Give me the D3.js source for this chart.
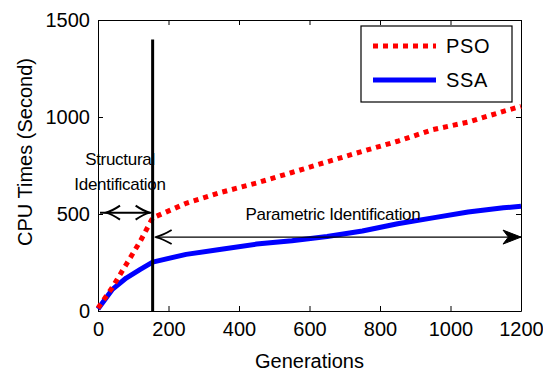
<!DOCTYPE html>
<html>
<head>
<meta charset="utf-8">
<script src="https://cdn.jsdelivr.net/npm/d3@7"></script>
<style>
  html, body { margin: 0; padding: 0; background: #fff; }
  svg { display: block; font-family: "Liberation Sans", Arial, sans-serif; }
</style>
</head>
<body>
<svg id="chart" width="543" height="374"></svg>
<script>
// Sampled generations and CPU time (seconds) for each algorithm
const generations = [0, 40, 80, 120, 155, 250, 350, 450, 550, 650, 750, 850, 950, 1050, 1150, 1200];
const psoTimes    = [15, 120, 240, 360, 480, 555, 612, 660, 714, 769, 823, 875, 935, 974, 1029, 1055];
const ssaTimes    = [10, 110, 170, 215, 252, 292, 318, 345, 362, 384, 412, 450, 480, 510, 532, 540];
const xTicks = [0, 200, 400, 600, 800, 1000, 1200];
const yTicks = [0, 500, 1000, 1500];
const seriesNames = ["PSO", "SSA"];

// Phase boundary and annotation levels
const phaseSplit = 155;
const splitTop = 1400;
const structArrowY = 507;
const paramArrowY = 381;

const svg = d3.select("#chart");
const margin = { left: 98, top: 20, right: 22, bottom: 63 };
const W = 543, H = 374;
const x = d3.scaleLinear().domain([0, 1200]).range([margin.left, W - margin.right]);
const y = d3.scaleLinear().domain([0, 1500]).range([H - margin.bottom, margin.top]);
const plain = d3.format("d");

// Frame and inward ticks on all four sides
const tickLen = 5;
const axB = svg.append("g").attr("transform", `translate(0,${y(0)})`)
  .call(d3.axisBottom(x).tickValues(xTicks).tickFormat(plain).tickSizeInner(-tickLen).tickSizeOuter(0).tickPadding(11));
const axT = svg.append("g").attr("transform", `translate(0,${y(1500)})`)
  .call(d3.axisTop(x).tickValues(xTicks).tickSizeInner(-tickLen).tickSizeOuter(0).tickFormat(""));
const axL = svg.append("g").attr("transform", `translate(${x(0)},0)`)
  .call(d3.axisLeft(y).tickValues(yTicks).tickFormat(plain).tickSizeInner(-tickLen).tickSizeOuter(0).tickPadding(8));
const axR = svg.append("g").attr("transform", `translate(${x(1200)},0)`)
  .call(d3.axisRight(y).tickValues(yTicks).tickSizeInner(-tickLen).tickSizeOuter(0).tickFormat(""));
[axB, axT, axL, axR].forEach(g => {
  g.selectAll("path.domain").attr("stroke", "#000").attr("stroke-width", 1);
  g.selectAll(".tick line").attr("stroke", "#000");
  g.selectAll("text").attr("font-size", 20).attr("fill", "#000")
    .attr("font-family", "'Liberation Sans', Arial, sans-serif");
});

// Axis titles
svg.append("text").attr("x", (x(0) + x(1200)) / 2).attr("y", 368)
  .attr("text-anchor", "middle").attr("font-size", 20).text("Generations");
svg.append("text").attr("transform", `translate(32,152) rotate(-90)`)
  .attr("text-anchor", "middle").attr("font-size", 20)
  .text("CPU Times (Second)");

// Series lines
const line = d3.line().x((d, i) => x(generations[i])).y(d => y(d));
svg.append("path").datum(ssaTimes).attr("d", line)
  .attr("fill", "none").attr("stroke", "#0000ff").attr("stroke-width", 5)
  .attr("stroke-linejoin", "round");
svg.append("path").datum(psoTimes).attr("d", line)
  .attr("fill", "none").attr("stroke", "#ff0000").attr("stroke-width", 5)
  .attr("stroke-dasharray", "5,5");

// Phase separator
svg.append("line")
  .attr("x1", x(phaseSplit)).attr("x2", x(phaseSplit))
  .attr("y1", y(splitTop)).attr("y2", y(0))
  .attr("stroke", "#000").attr("stroke-width", 3);

// Arrow helpers
function openHead(tipX, tipY, dir, len, half, w) {
  svg.append("path")
    .attr("d", `M${tipX + dir * len},${tipY - half} Q${tipX + dir * len * 0.45},${tipY - half * 0.25} ${tipX},${tipY} Q${tipX + dir * len * 0.45},${tipY + half * 0.25} ${tipX + dir * len},${tipY + half}`)
    .attr("fill", "none").attr("stroke", "#000").attr("stroke-width", w);
}
function filledHead(tipX, tipY, dir, len, half) {
  svg.append("path")
    .attr("d", `M${tipX},${tipY} L${tipX + dir * len},${tipY - half} L${tipX + dir * len * 0.7},${tipY} L${tipX + dir * len},${tipY + half} Z`)
    .attr("fill", "#000").attr("stroke", "#000").attr("stroke-width", 1);
}

// Structural identification arrow
const sy = y(structArrowY);
svg.append("line").attr("x1", x(0) + 2).attr("x2", x(phaseSplit) - 2).attr("y1", sy).attr("y2", sy)
  .attr("stroke", "#000").attr("stroke-width", 2);
openHead(x(0) + 8, sy, 1, 14, 7, 2);
openHead(x(phaseSplit) - 3, sy, -1, 14, 7, 2);

// Parametric identification arrow
const py = y(paramArrowY);
svg.append("line").attr("x1", x(phaseSplit) + 2).attr("x2", x(1200)).attr("y1", py).attr("y2", py)
  .attr("stroke", "#000").attr("stroke-width", 1.2);
openHead(x(phaseSplit) + 3, py, 1, 16, 7, 1.8);
filledHead(x(1200), py, -1, 18, 7);

// Annotation text
svg.append("text").attr("x", 120).attr("y", 165).attr("text-anchor", "middle")
  .attr("font-size", 17).attr("letter-spacing", -0.3).text("Structural");
svg.append("text").attr("x", 120).attr("y", 190).attr("text-anchor", "middle")
  .attr("font-size", 17).attr("letter-spacing", -0.3).text("Identification");
svg.append("text").attr("x", 333).attr("y", 220).attr("text-anchor", "middle")
  .attr("font-size", 17).attr("letter-spacing", -0.3).text("Parametric Identification");

// Legend
const lg = svg.append("g");
lg.append("rect").attr("x", 361).attr("y", 26).attr("width", 151).attr("height", 76)
  .attr("fill", "#fff").attr("stroke", "#000").attr("stroke-width", 1.2);
const legendStyles = [
  { color: "#ff0000", dash: "5,5", yy: 46 },
  { color: "#0000ff", dash: null, yy: 80 }
];
seriesNames.forEach((name, i) => {
  const s = legendStyles[i];
  lg.append("line").attr("x1", 373).attr("x2", 436).attr("y1", s.yy).attr("y2", s.yy)
    .attr("stroke", s.color).attr("stroke-width", 5).attr("stroke-dasharray", s.dash);
  lg.append("text").attr("x", 446).attr("y", s.yy + 7).attr("font-size", 20)
    .attr("letter-spacing", 0.6).text(name);
});
</script>
</body>
</html>
